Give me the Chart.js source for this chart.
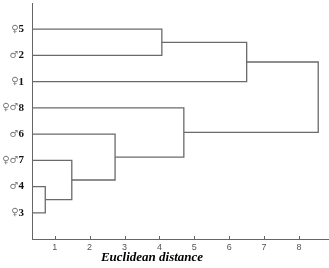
<!DOCTYPE html>
<html>
<head>
<meta charset="utf-8">
<script src="https://cdn.jsdelivr.net/npm/chart.js@4/dist/chart.umd.min.js"></script>
<style>
  html, body { margin: 0; padding: 0; background: #fff; }
</style>
</head>
<body>
<canvas id="c" width="329" height="268"></canvas>
<script>
// leaves, top to bottom
const leaves = ['♀5', '♂2', '♀1', '♀♂8', '♂6', '♀♂7', '♂4', '♀3']
// merges: [node a, node b, distance]; new nodes get ids 8, 9, ...
const merges = [
  [6, 7, 0.73],
  [5, 8, 1.49],
  [4, 9, 2.73],
  [0, 1, 4.07],
  [3, 10, 4.70],
  [11, 2, 6.50],
  [13, 12, 8.55]
]
const xTicks = [1, 2, 3, 4, 5, 6, 7, 8]
const xMin = 0.35
const xMax = 8.83

// node positions
const nodes = leaves.map((l, i) => ({ x: xMin, y: i + 1 }))
const links = []
merges.forEach(([a, b, h]) => {
  const na = nodes[a], nb = nodes[b]
  links.push([
    { x: na.x, y: na.y },
    { x: h, y: na.y },
    { x: h, y: nb.y },
    { x: nb.x, y: nb.y }
  ])
  nodes.push({ x: h, y: (na.y + nb.y) / 2 })
})

const lineColor = '#6a6a6a'

// leaf labels: sex symbols in a lighter font, number in bold serif
const leafLabels = {
  id: 'leafLabels',
  afterDraw (chart) {
    const { ctx, scales: { y }, chartArea } = chart
    ctx.save()
    ctx.textBaseline = 'middle'
    ctx.textAlign = 'right'
    leaves.forEach((l, i) => {
      const py = y.getPixelForValue(i + 1)
      const sym = l.slice(0, -1)
      const num = l.slice(-1)
      let px = chartArea.left - 8
      ctx.font = 'bold 11px "Liberation Serif", serif'
      ctx.fillStyle = '#111'
      ctx.fillText(num, px, py)
      px -= ctx.measureText(num).width
      ctx.font = '10px "DejaVu Sans", sans-serif'
      ctx.fillStyle = '#777'
      ctx.fillText(sym, px, py)
    })
    ctx.restore()
  }
}

const upTicks = {
  id: 'upTicks',
  afterDraw (chart) {
    const { ctx, scales: { x }, chartArea } = chart
    ctx.save()
    ctx.strokeStyle = '#666'
    ctx.lineWidth = 1
    xTicks.forEach(v => {
      const px = Math.round(x.getPixelForValue(v)) + 0.5
      ctx.beginPath()
      ctx.moveTo(px, chartArea.bottom)
      ctx.lineTo(px, chartArea.bottom - 3)
      ctx.stroke()
    })
    ctx.fillStyle = '#000'
    ctx.font = 'bold italic 13px "Liberation Serif", serif'
    ctx.textAlign = 'center'
    ctx.textBaseline = 'middle'
    ctx.fillText('Euclidean distance', 152, 258)
    ctx.restore()
  }
}

new Chart(document.getElementById('c'), {
  type: 'scatter',
  data: {
    datasets: links.map(pts => ({
      data: pts,
      showLine: true,
      borderColor: lineColor,
      borderWidth: 1.3,
      pointRadius: 0,
      fill: false,
      tension: 0
    }))
  },
  options: {
    responsive: false,
    animation: false,
    layout: { padding: { right: 1, top: 3, left: 0, bottom: 0 } },
    plugins: { legend: { display: false }, tooltip: { enabled: false } },
    scales: {
      x: {
        type: 'linear',
        min: xMin,
        max: xMax,
        afterFit (s) { s.height = 29 },
        afterBuildTicks (s) { s.ticks = xTicks.map(v => ({ value: v })) },
        grid: { display: false, drawTicks: false },
        border: { display: true, color: '#666', width: 1 },
        ticks: {
          padding: 3,
          color: '#555',
          font: { family: '"Liberation Sans", Arial, sans-serif', size: 9 }
        }
      },
      y: {
        type: 'linear',
        reverse: true,
        min: 0,
        max: 9,
        afterFit (s) { s.width = 32 },
        grid: { display: false, drawTicks: false },
        border: { display: true, color: '#666', width: 1 },
        ticks: { display: false }
      }
    }
  },
  plugins: [upTicks, leafLabels]
})
</script>
</body>
</html>
